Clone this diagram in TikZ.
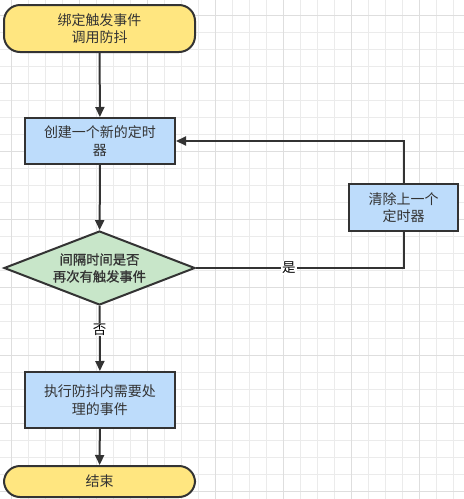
\documentclass[tikz,border=0pt]{standalone}
\usepackage{fontspec}
\newfontfamily\cjk{Noto Sans CJK SC}
\newfontfamily\cjkheavy[FakeBold=1]{Noto Sans CJK SC}
\usetikzlibrary{shapes.geometric,arrows.meta}
\definecolor{inkgrey}{HTML}{333333}
\definecolor{termyellow}{HTML}{FFE680}
\definecolor{procblue}{HTML}{BDDCFB}
\definecolor{askgreen}{HTML}{C8E6C9}
\tikzset{
  base/.style={draw=inkgrey,line width=2pt,text=inkgrey,align=center,
    font=\cjk\fontsize{14}{17.5}\selectfont,inner sep=0pt},
  terminal/.style={base,fill=termyellow,rounded corners=16pt},
  process/.style={base,fill=procblue},
  decision/.style={base,fill=askgreen,shape=diamond,
    font=\cjkheavy\fontsize{13.3}{17}\selectfont},
  flow/.style={draw=inkgrey,line width=2pt,-{Triangle[length=10pt,width=9pt]}},
  answer/.style={fill=white,text=black,inner sep=1pt,font=\cjk\fontsize{13.5}{15}\selectfont}
}
\begin{document}
\begin{tikzpicture}[x=1pt,y=-1pt]
    \useasboundingbox (0,0) rectangle (464,499);
    % grid paper
    \foreach \k in {0,...,26}
        \draw[color=black!8,line width=0.6pt] (11.7+17*\k,0) -- (11.7+17*\k,499);
    \foreach \k in {0,...,28}
        \draw[color=black!8,line width=0.6pt] (0,15+17*\k) -- (464,15+17*\k);
    \foreach \k in {0,4,...,24}
        \draw[color=black!13,line width=0.6pt] (11.7+17*\k,0) -- (11.7+17*\k,499);
    \foreach \k in {0,4,...,28}
        \draw[color=black!13,line width=0.6pt] (0,15+17*\k) -- (464,15+17*\k);
    % boxes
    \node[terminal,minimum width=191pt,minimum height=47pt] (start) at (99.5,28.5) {绑定触发事件\\调用防抖};
    \node[process,minimum width=150pt,minimum height=46pt] (create) at (100,141) {创建一个新的定时\\器};
    \node[decision,minimum width=191pt,minimum height=74pt,aspect=2.58] (check) at (99.5,268) {间隔时间是否\\再次有触发事件};
    \node[process,minimum width=109pt,minimum height=47pt] (clear) at (403.5,207.5) {清除上一个\\定时器};
    \node[process,minimum width=150pt,minimum height=56pt] (exec) at (100,400) {执行防抖内需要处\\理的事件};
    \node[terminal,minimum width=191pt,minimum height=31pt] (stop) at (99.5,481.5) {结束};
    % arrows
    \draw[flow] (start) -- (create);
    \draw[flow] (create) -- (check);
    \draw[draw=inkgrey,line width=2pt] (check.east) -| node[answer,pos=0.224] {是} (clear.south);
    \draw[flow] (clear.north) |- (create.east);
    \draw[flow] (check) -- node[answer,pos=0.36] {否} (exec);
    \draw[flow] (exec) -- (stop);
\end{tikzpicture}
\end{document}
